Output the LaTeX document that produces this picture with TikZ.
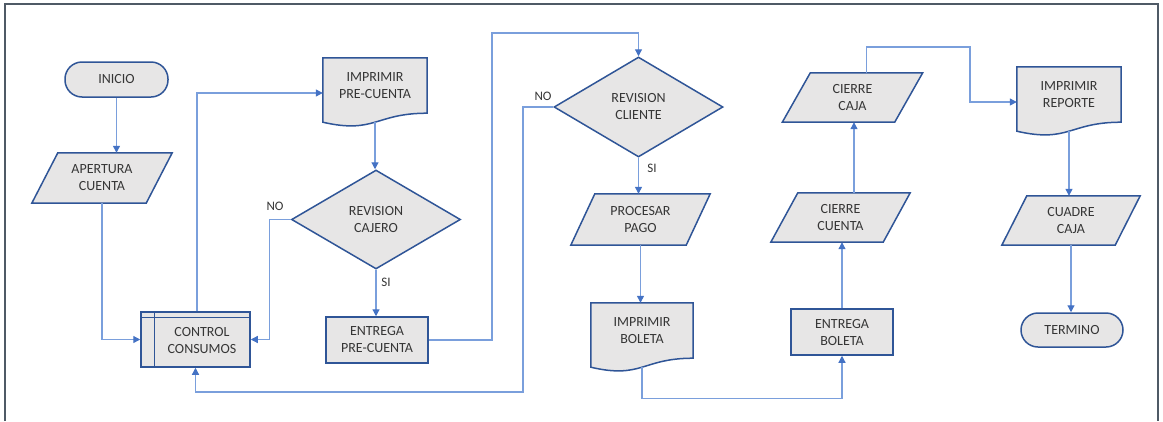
\documentclass[tikz,border=0pt]{standalone}
\usepackage{fontspec}
\setmainfont{Carlito}
\usetikzlibrary{shapes.geometric,arrows.meta,calc}
\definecolor{edge}{HTML}{2F5597}
\definecolor{link}{HTML}{4472C4}
\definecolor{linkline}{HTML}{7A9FDC}
\definecolor{boxfill}{HTML}{E7E6E6}
\definecolor{ink}{HTML}{363636}
\definecolor{framecol}{HTML}{4F5A66}
\pgfdeclarelayer{bg}
\pgfsetlayers{bg,main}

% parallelogram outline around a rectangle node: #2 = half of the horizontal slant
\newcommand\parashape[2]{%
  \path[shapebase] ($(#1.north west)+(#2,0)$) -- ($(#1.north east)+(#2,0)$)
    -- ($(#1.south east)+(-#2,0)$) -- ($(#1.south west)+(-#2,0)$) -- cycle;}
% document outline with a wavy bottom edge
\newcommand\docshape[1]{%
  \path[shapebase] (#1.north west) -- (#1.north east) -- (#1.south east)
    .. controls (#1.south) and ($(#1.south)+(0,21)$) .. ($(#1.south west)+(0,9)$) -- cycle;}

\begin{document}
\begin{tikzpicture}[x=1pt,y=-1pt,
  every node/.style={font=\fontsize{14}{17}\selectfont, text=ink, align=center, inner sep=0pt},
  shapebase/.style={draw=edge, line width=1.5pt, fill=boxfill},
  term/.style={shapebase, rectangle, rounded corners=17pt, minimum width=103pt, minimum height=35pt},
  procbox/.style={shapebase, rectangle, minimum width=102pt, minimum height=46pt},
  parabox/.style={rectangle, minimum height=49pt},
  docbox/.style={rectangle, minimum width=104pt, minimum height=55pt},
  decision/.style={shapebase, diamond, aspect=1.7, minimum width=169pt, minimum height=99pt},
  lbl/.style={font=\fontsize{13}{15}\selectfont},
  link/.style={draw=linkline, line width=1.2pt, -{Triangle[width=7pt,length=7pt,color=link]}}
]
\useasboundingbox (0,0) rectangle (1163,421);

% outer frame
\draw[framecol, line width=1.8pt] (5,421) -- (5,4) -- (1158,4) -- (1158,421);

% nodes
\node[term] (inicio) at (116.5,79.5) {INICIO};
\node[parabox, minimum width=114pt, minimum height=50pt] (apertura) at (102,178) {APERTURA\\CUENTA};
\node[procbox, minimum width=109pt, minimum height=55pt] (control) at (195.5,339.5) {};
\draw[edge, line width=1.5pt] ([xshift=14pt]control.north west) -- ([xshift=14pt]control.south west);
\draw[edge, line width=1.5pt] ([yshift=-6pt]control.north west) -- ([yshift=-6pt]control.north east);
\node (controltxt) at (202,341) {CONTROL\\CONSUMOS};
\node[docbox] (imppre) at (375,85.5) {IMPRIMIR\\PRE-CUENTA};
\node[decision] (cajero) at (376,219.5) {REVISION\\CAJERO};
\node[procbox] (entpre) at (377,340) {ENTREGA\\PRE-CUENTA};
\node[decision, minimum height=100pt] (cliente) at (638.5,107) {REVISION\\CLIENTE};
\node[parabox, minimum width=115pt, minimum height=51pt] (procesar) at (640.5,219.5) {PROCESAR\\PAGO};
\node[docbox, minimum width=102pt] (impbol) at (642,330.5) {IMPRIMIR\\BOLETA};
\node[procbox] (entbol) at (842,332) {ENTREGA\\BOLETA};
\node[parabox, minimum width=112pt] (ccuenta) at (840.5,217.5) {CIERRE\\CUENTA};
\node[parabox, minimum width=112pt] (ccaja) at (852.5,97.5) {CIERRE\\CAJA};
\node[docbox] (imprep) at (1069,94.5) {IMPRIMIR\\REPORTE};
\node[parabox, minimum width=113pt] (cuadre) at (1071,220.5) {CUADRE\\CAJA};
\node[term, minimum width=102pt, minimum height=34pt] (termino) at (1072,330) {TERMINO};

\begin{pgfonlayer}{bg}
  \parashape{apertura}{13}
  \parashape{procesar}{12}
  \parashape{ccuenta}{13.5}
  \parashape{ccaja}{14}
  \parashape{cuadre}{12.5}
  \docshape{imppre}
  \docshape{impbol}
  \docshape{imprep}
\end{pgfonlayer}

% branch labels
\node[lbl] (no1) at (275,206) {NO};
\node[lbl] (si1) at (386,282) {SI};
\node[lbl] (no2) at (543,96) {NO};
\node[lbl] (si2) at (652,168) {SI};

% connectors
\draw[link] (inicio.south) -- (inicio.south |- apertura.north);
\draw[link] (apertura.south) |- (control.west);
\draw[link] ([xshift=1.5pt]control.north) |- ([yshift=-7.5pt]imppre.west);
\draw[link] ([yshift=-9pt]imppre.south) -- (imppre.south |- cajero.north);
\draw[link] (cajero.south) -- (cajero.south |- entpre.north);
\draw[link] (cajero.west) -- ++(-21,0) |- (control.east);
\draw[link] (entpre.east) -| (492,33) -| (cliente.north);
\draw[link] (cliente.west) -| (523,392) -| (control.south);
\draw[link] (cliente.south) -- (cliente.south |- procesar.north);
\draw[link] (procesar.south) -- (procesar.south |- impbol.north);
\draw[link] ([yshift=-9pt]impbol.south) |- ($(entbol.south)+(0,43)$) -- (entbol.south);
\draw[link] (entbol.north) -- (entbol.north |- ccuenta.south);
\draw[link] ([xshift=13.5pt]ccuenta.north) -- ([xshift=13.5pt]ccuenta.north |- ccaja.south);
\draw[link] ([xshift=14pt]ccaja.north) |- (970,47) |- ([yshift=-7.5pt]imprep.west);
\draw[link] ([yshift=-9pt]imprep.south) -- (imprep.south |- cuadre.north);
\draw[link] (cuadre.south) -- (cuadre.south |- termino.north);
\end{tikzpicture}
\end{document}
